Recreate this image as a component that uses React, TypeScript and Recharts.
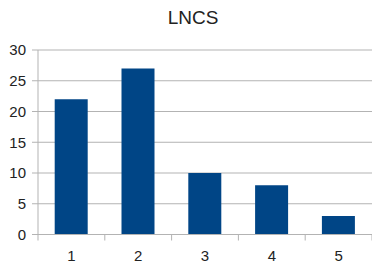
import { BarChart, Bar, XAxis, YAxis, CartesianGrid } from 'recharts';

const categories = ['1', '2', '3', '4', '5'];
const counts = [22, 27, 10, 8, 3];
const yTicks = [0, 5, 10, 15, 20, 25, 30];

const data = categories.map((c, i) => ({ name: c, value: counts[i] }));

const GRID = '#b3b3b3';
const TEXT = '#222222';
const FONT = '"Liberation Sans", Arial, sans-serif';

// category labels centred in the band, tick marks on the band edges
// eslint-disable-next-line @typescript-eslint/no-explicit-any
function BandTick(props: any) {
  const { x, y, payload, index, visibleTicksCount } = props;
  const half = payload && payload.offset ? payload.offset : 33.4;
  const last = index === visibleTicksCount - 1;
  return (
    <g>
      <line x1={x - half} x2={x - half} y1={y} y2={y + 6} stroke={GRID} />
      {last && <line x1={x + half} x2={x + half} y1={y} y2={y + 6} stroke={GRID} />}
      <text x={x} y={y + 26} textAnchor="middle" fill={TEXT} fontSize={15} fontFamily={FONT}>
        {payload.value}
      </text>
    </g>
  );
}

export default function App() {
  return (
    <div style={{ position: 'fixed', left: 0, top: 0, width: 372, height: 262, overflow: 'hidden', background: '#fff' }}>
      <div
        style={{
          position: 'absolute',
          left: 0,
          width: 386,
          top: 7,
          textAlign: 'center',
          fontFamily: FONT,
          fontSize: 19,
          color: TEXT,
        }}
      >
        LNCS
      </div>
      <BarChart
        width={372}
        height={262}
        data={data}
        margin={{ top: 50, right: 0, bottom: 0, left: 0 }}
        barCategoryGap="25%"
      >
        <CartesianGrid vertical={false} stroke={GRID} />
        <XAxis
          dataKey="name"
          height={27.5}
          axisLine={{ stroke: GRID }}
          tickLine={false}
          tickSize={0}
          tickMargin={0}
          tick={<BandTick />}
          interval={0}
        />
        <YAxis
          width={38}
          domain={[0, 30]}
          ticks={yTicks}
          interval={0}
          axisLine={{ stroke: GRID }}
          tickLine={{ stroke: GRID }}
          tickSize={6}
          tickMargin={6}
          tick={{ fill: TEXT, fontSize: 15, fontFamily: FONT }}
        />
        <Bar dataKey="value" fill="#004586" isAnimationActive={false} />
      </BarChart>
    </div>
  );
}
